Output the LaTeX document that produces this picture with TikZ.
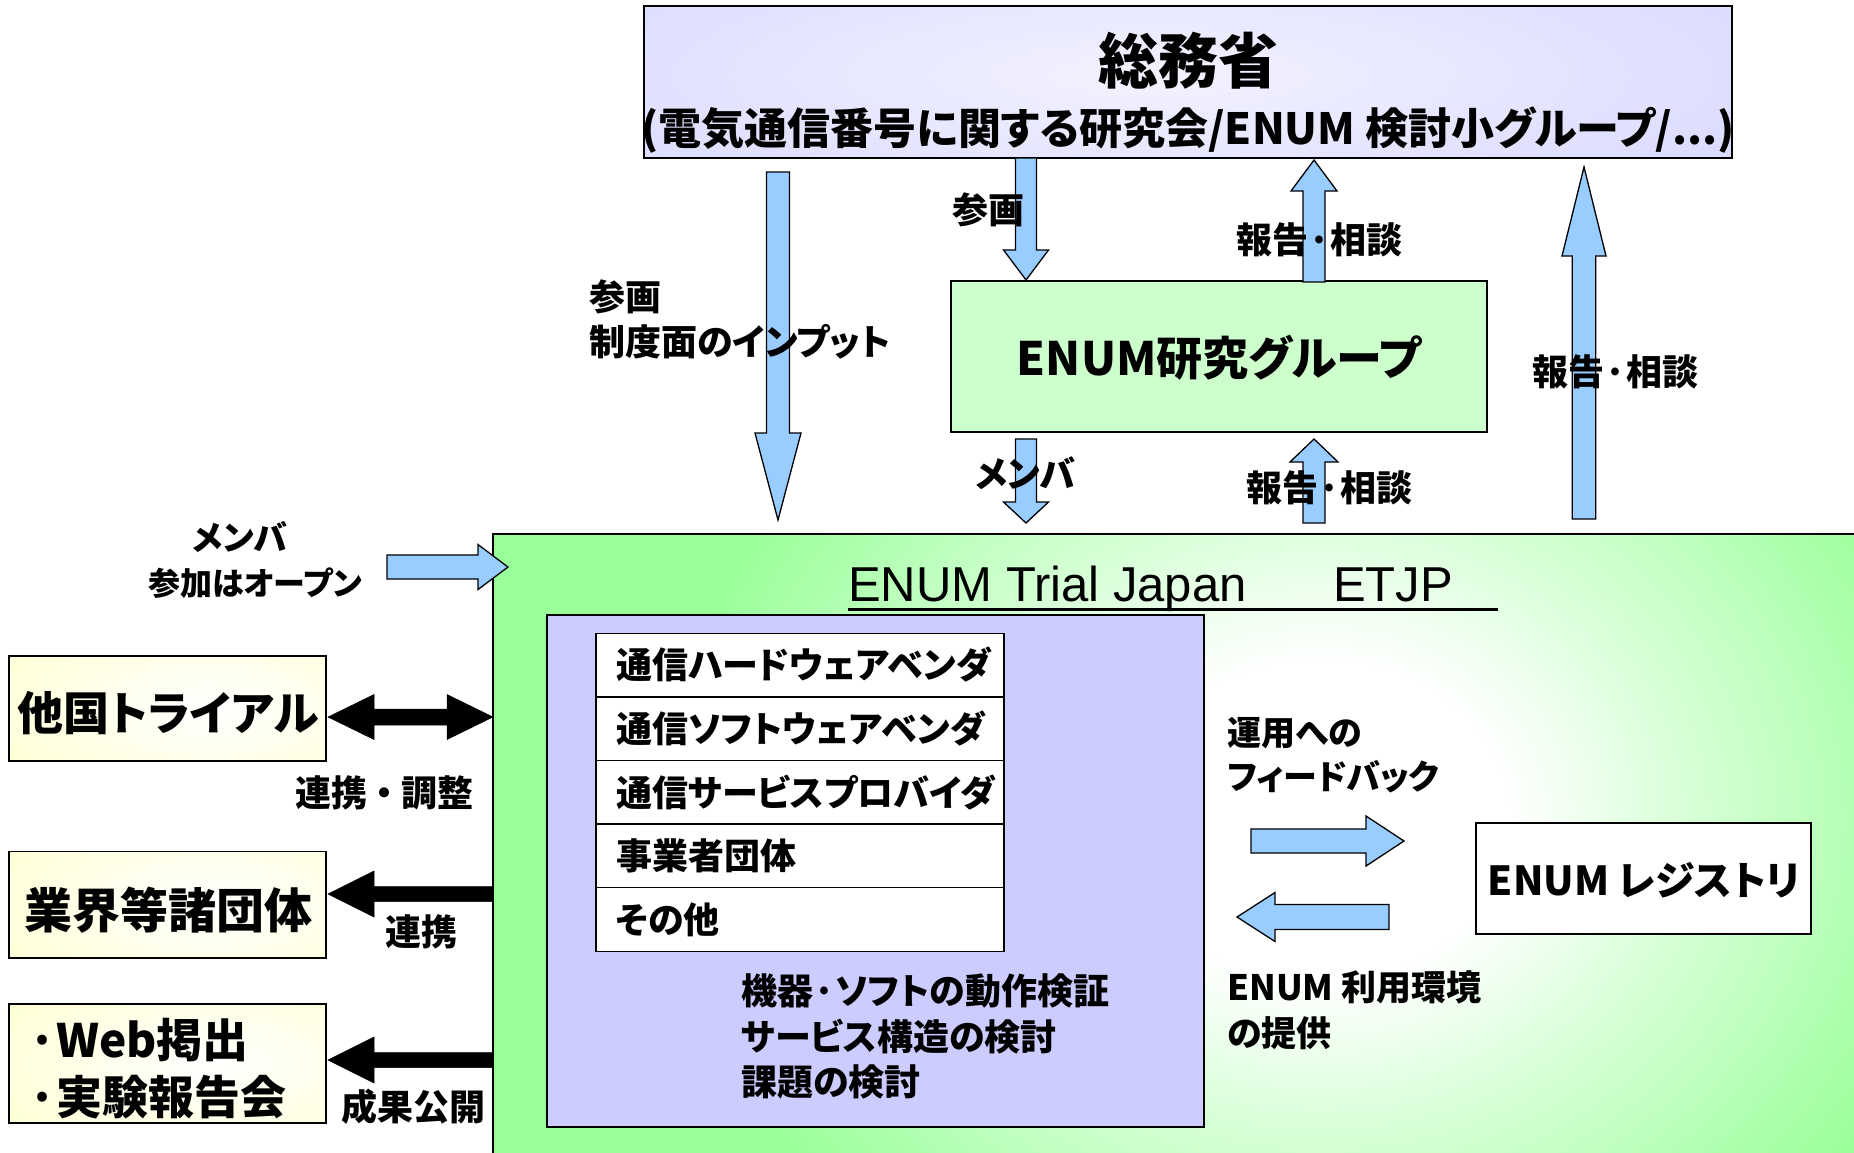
\documentclass[tikz,border=0pt]{standalone}
\usepackage{fontspec}
\setmainfont{Noto Sans CJK JP}[RawFeature=+palt]
\newfontfamily\lat{Liberation Sans}
\usetikzlibrary{calc}
\definecolor{lav}{HTML}{CCCCFF}
\definecolor{lgreen}{HTML}{CCFFCC}
\definecolor{bgreen}{HTML}{99FF99}
\definecolor{lyel}{HTML}{FFFFCC}
\definecolor{ablue}{HTML}{99CCFF}
\pgfdeclareradialshading{glowgreen}{\pgfpoint{0bp}{0bp}}{color(0bp)=(white); color(7bp)=(white); color(25bp)=(bgreen); color(50bp)=(bgreen)}
\pgfdeclareradialshading{glowlav}{\pgfpoint{0bp}{0bp}}{color(0bp)=(lav!25); color(25bp)=(lav); color(50bp)=(lav)}
\pgfdeclareradialshading{glowyel}{\pgfpoint{0bp}{0bp}}{color(0bp)=(white); color(25bp)=(lyel); color(50bp)=(lyel)}
\newcommand\fs[1]{\fontsize{#1}{#1}\selectfont}
\newcommand\barrow[6]{%
  \coordinate (bah) at ($(#3)!#5pt!(#2)$);
  \draw[#1] ($(#2)!#4pt!90:(#3)$) -- ($(bah)!#4pt!90:(#3)$) -- ($(bah)!#6pt!90:(#3)$) -- (#3) -- ($(bah)!#6pt!-90:(#3)$) -- ($(bah)!#4pt!-90:(#3)$) -- ($(#2)!#4pt!-90:(#3)$) -- cycle;}
\newcommand\dbarrow[6]{%
  \coordinate (bah) at ($(#3)!#5pt!(#2)$);
  \coordinate (bat) at ($(#2)!#5pt!(#3)$);
  \draw[#1] (#2) -- ($(bat)!#6pt!90:(#3)$) -- ($(bat)!#4pt!90:(#3)$) -- ($(bah)!#4pt!90:(#3)$) -- ($(bah)!#6pt!90:(#3)$) -- (#3) -- ($(bah)!#6pt!-90:(#3)$) -- ($(bah)!#4pt!-90:(#3)$) -- ($(bat)!#4pt!-90:(#3)$) -- ($(bat)!#6pt!-90:(#3)$) -- cycle;}
\tikzset{
  box/.style={draw=black, line width=1.6pt, inner sep=0pt},
  cell/.style={draw=black, line width=1.4pt, fill=white, minimum width=408, minimum height=63.6, inner sep=0pt},
  barr/.style={fill=ablue, draw=black, line width=1.3pt, line join=miter},
  karr/.style={fill=black, draw=black, line width=0.5pt, line join=miter},
  tb/.style={inner sep=0pt, font=\bfseries\fs{#1}},
}
\begin{document}
\begin{tikzpicture}[x=1pt,y=-1pt]
\useasboundingbox (0,0) rectangle (1854,1152);
\fill[white] (0,0) rectangle (1854,1152);

% top box
\node[inner sep=0pt, minimum width=1088, minimum height=152, fill=lav] (mic) at (1188,82) {};
\begin{scope}
  \clip (mic.south west) rectangle (mic.north east);
  \shade[shading=glowlav] (1150,75) ellipse [x radius=1100, y radius=260];
\end{scope}
\draw[box] (mic.north west) rectangle (mic.south east);

% ENUM research group
\node[box, fill=lgreen, minimum width=536, minimum height=151] (grp) at (1219,356.5) {};

% ETJP
\node[inner sep=0pt, minimum width=1367, minimum height=626, fill=bgreen] (etjp) at (1176.5,847) {};
\begin{scope}
  \clip (etjp.south west) rectangle (etjp.north east);
  \shade[shading=glowgreen] (1320,820) ellipse [x radius=660, y radius=560];
\end{scope}
\draw[line width=2pt] (etjp.north west) rectangle (etjp.south east);

% inner purple box
\node[box, fill=lav, minimum width=657, minimum height=512] (inner) at (875.5,871) {};

% table
\node[cell] (r1) at (800,665) {};
\node[cell] (r2) at (800,728.6) {};
\node[cell] (r3) at (800,792.2) {};
\node[cell] (r4) at (800,855.8) {};
\node[cell] (r5) at (800,919.4) {};

% registry
\node[box, fill=white, minimum width=335, minimum height=111] (reg) at (1643.5,878.5) {};

% left boxes
\foreach \n/\y/\h in {lb1/708.5/105, lb2/904.5/106, lb3/1063.5/119}{
  \node[inner sep=0pt, minimum width=317, minimum height=\h, fill=lyel] (\n) at (167.5,\y) {};
  \begin{scope}
    \clip (\n.south west) rectangle (\n.north east);
    \shade[shading=glowyel] (210,\y) ellipse [x radius=300, y radius=130];
  \end{scope}
  \draw[box] (\n.north west) rectangle (\n.south east);
}

% blue arrows
\coordinate (a1s) at (778,172);  \coordinate (a1e) at (778,520);
\coordinate (a2s) at (1026,158); \coordinate (a2e) at (1026,280);
\coordinate (a3s) at (1314,282); \coordinate (a3e) at (1314,160);
\coordinate (a4s) at (1026,439); \coordinate (a4e) at (1026,523);
\coordinate (a5s) at (1314,523); \coordinate (a5e) at (1314,439);
\coordinate (a6s) at (1584,519); \coordinate (a6e) at (1584,167);
\coordinate (a7s) at (387,567);  \coordinate (a7e) at (508,567);
\coordinate (a8s) at (1251,841); \coordinate (a8e) at (1404,841);
\coordinate (a9s) at (1389,917); \coordinate (a9e) at (1237,917);
\barrow{barr}{a1s}{a1e}{11.5}{87}{23}
\barrow{barr}{a2s}{a2e}{10.5}{30}{22.5}
\barrow{barr}{a3s}{a3e}{11}{31}{23}
\barrow{barr}{a4s}{a4e}{10.5}{21}{22.5}
\barrow{barr}{a5s}{a5e}{11}{23}{24}
\barrow{barr}{a6s}{a6e}{11.7}{89}{22}
\barrow{barr}{a7s}{a7e}{12}{30}{22.5}
\barrow{barr}{a8s}{a8e}{12}{38}{25}
\barrow{barr}{a9s}{a9e}{12.5}{38}{24.5}

% black arrows
\coordinate (k1s) at (328,717);  \coordinate (k1e) at (493,717);
\coordinate (k2s) at (493,894);  \coordinate (k2e) at (328,894);
\coordinate (k3s) at (493,1060); \coordinate (k3e) at (328,1060);
\dbarrow{karr}{k1s}{k1e}{8}{46}{22.5}
\barrow{karr}{k2s}{k2e}{7.5}{46}{23}
\barrow{karr}{k3s}{k3e}{7.5}{46}{23}

% texts
\node[tb=60] (t0) at (1188,61) {総務省};
\node[tb=43] (t1) at (1188,130) {(電気通信番号に関する研究会/ENUM 検討小グループ/...)};
\node[tb=36, anchor=west] (l1) at (952,210) {参画};
\node[tb=36, anchor=west] (l2) at (1236,240) {報告·相談};
\node[tb=36, anchor=west] (l3) at (589,297) {参画};
\node[tb=36, anchor=west] (l4) at (589,342) {制度面のインプット};
\node[tb=46] (tg) at (1219,358) {ENUM研究グループ};
\node[tb=36, anchor=west] (l5) at (1532,372) {報告·相談};
\node[tb=36, anchor=west] (l6) at (975,473) {メンバ};
\node[tb=36, anchor=west] (l7) at (1246,488) {報告·相談};
\node[tb=34] (l8) at (240,537) {メンバ};
\node[tb=32] (l9) at (255,583) {参加はオープン};
\node[inner sep=0pt, anchor=base west, font=\lat\fs{49}] (te1) at (848,601) {ENUM Trial Japan};
\node[inner sep=0pt, anchor=base west, font=\lat\fs{49}] (te2) at (1333,601) {ETJP};
\draw[line width=3pt] (848,609) -- (1498,609);

\node[tb=36, anchor=west] at (616,665) (c1) {通信ハードウェアベンダ};
\node[tb=36, anchor=west] at (616,728.6) (c2) {通信ソフトウェアベンダ};
\node[tb=36, anchor=west] at (616,792.2) (c3) {通信サービスプロバイダ};
\node[tb=36, anchor=west] at (616,855.8) (c4) {事業者団体};
\node[tb=36, anchor=west] at (616,919.4) (c5) {その他};

\node[tb=36, anchor=west] (m1) at (741,991) {機器·ソフトの動作検証};
\node[tb=36, anchor=west] (m2) at (741,1037) {サービス構造の検討};
\node[tb=36, anchor=west] (m3) at (741,1082) {課題の検討};

\node[tb=34, anchor=west] (f1) at (1227,733) {運用への};
\node[tb=34, anchor=west] (f2) at (1227,777) {フィードバック};
\node[tb=35, anchor=west] (f3) at (1227,987) {ENUM 利用環境};
\node[tb=35, anchor=west] (f4) at (1227,1033) {の提供};
\node[tb=40] (tr) at (1644,880) {ENUM レジストリ};

\node[tb=46] (tl1) at (168,713) {他国トライアル};
\node[tb=36, anchor=west] (l10) at (295,793) {連携 ・ 調整};
\node[tb=48] (tl2) at (168,910) {業界等諸団体};
\node[tb=36, anchor=west] (l11) at (385,932) {連携};
\node[tb=46, anchor=west] (tl3) at (28,1040) {·Web掲出};
\node[tb=46, anchor=west] (tl4) at (28,1097) {·実験報告会};
\node[tb=36, anchor=west] (l12) at (341,1107) {成果公開};
\end{tikzpicture}
\end{document}
